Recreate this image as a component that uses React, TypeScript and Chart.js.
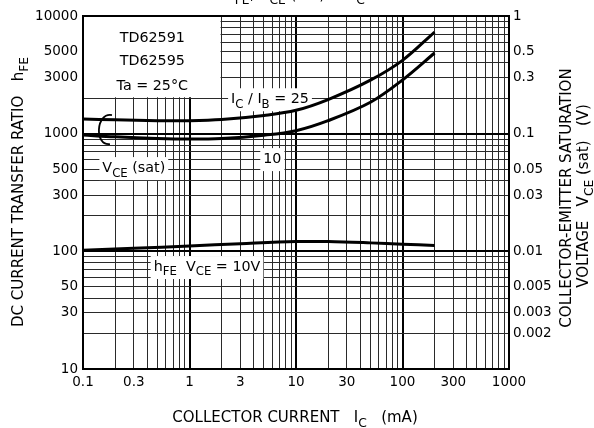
import React, { useEffect, useRef } from "react";
import { Chart, registerables } from "chart.js";
Chart.register(...registerables);

// ---- data ----
const icValues = [0.1, 0.2, 0.5, 1, 2, 5, 10, 20, 50, 100, 200];
const vceSatIb25 = [0.133, 0.131, 0.129, 0.129, 0.132, 0.143, 0.158, 0.195, 0.285, 0.42, 0.73];
const vceSatIb10 = [0.0975, 0.094, 0.091, 0.09, 0.091, 0.097, 0.106, 0.129, 0.185, 0.286, 0.485];
const hfeIc = [0.1, 0.3, 1, 3, 10, 20, 50, 100, 200];
const hfeVce10 = [102, 106, 111, 116, 121, 121, 118, 115, 112];

const xTickLabels = [0.1, 0.3, 1, 3, 10, 30, 100, 300, 1000];
const yTickLabels = [10, 30, 50, 100, 300, 500, 1000, 3000, 5000, 10000];
const y2TickLabels = [0.002, 0.003, 0.005, 0.01, 0.03, 0.05, 0.1, 0.3, 0.5, 1];

const infoLines = ["TD62591", "TD62595", "Ta = 25°C"];
const infoLineHfe = [6650, 4217, 2588];
const infoBox = { x2: 2, y2: 2000 };

type Seg = [string, boolean];
const annoLabels: { segs: Seg[]; x: number; y: number }[] = [
  { segs: [["I", false], ["C", true], [" / I", false], ["B", true], [" = 25", false]], x: 5.7, y: 2000 },
  { segs: [["10", false]], x: 6, y: 620 },
  { segs: [["V", false], ["CE", true], [" (sat)", false]], x: 0.3, y: 520 },
  { segs: [["h", false], ["FE", true], ["  V", false], ["CE", true], [" = 10V", false]], x: 1.46, y: 75 },
];
const bracketPts = [
  [0.187, 1439],
  [0.132, 1526],
  [0.127, 784],
  [0.179, 816],
];

const FONT = "'DejaVu Sans', sans-serif";
const FS = 13.5; // tick labels
const FL = 14.3; // in-plot labels
const FT = 15; // axis titles

function gridValues(lo: number, hi: number) {
  const out: number[] = [];
  for (let e = lo; e < hi; e++) {
    for (let m = 1; m < 10; m++) out.push(parseFloat((m * Math.pow(10, e)).toPrecision(2)));
  }
  out.push(Math.pow(10, hi));
  return out;
}
const isDecade = (v: number) => Math.abs(Math.log10(v) - Math.round(Math.log10(v))) < 1e-9;

function segWidth(ctx: CanvasRenderingContext2D, segs: Seg[], size: number) {
  let w = 0;
  for (const [t, sub] of segs) {
    ctx.font = `${sub ? size * 0.82 : size}px ${FONT}`;
    w += ctx.measureText(t).width;
  }
  return w;
}
// draws text with caps vertically centred at cy
function drawRich(ctx: CanvasRenderingContext2D, segs: Seg[], cx: number, cy: number, size: number, align = "center") {
  const w = segWidth(ctx, segs, size);
  let x = align === "center" ? cx - w / 2 : align === "right" ? cx - w : cx;
  const base = cy + size * 0.36;
  ctx.textBaseline = "alphabetic";
  ctx.textAlign = "left";
  ctx.fillStyle = "#000";
  for (const [t, sub] of segs) {
    ctx.font = `${sub ? size * 0.82 : size}px ${FONT}`;
    ctx.fillText(t, x, sub ? base + size * 0.3 : base);
    x += ctx.measureText(t).width;
  }
  return w;
}

const overlay = {
  id: "overlay",
  beforeDatasetsDraw(chart: any) {
    const { ctx, chartArea: a, scales } = chart;
    const sx = scales.x, sy = scales.y;
    ctx.save();
    ctx.fillStyle = "#fff";
    const bx2 = sx.getPixelForValue(infoBox.x2);
    const by2 = sy.getPixelForValue(infoBox.y2);
    ctx.fillRect(a.left + 1, a.top + 1, bx2 - a.left - 2, by2 - a.top - 2);
    for (const lb of annoLabels) {
      const w = segWidth(ctx, lb.segs, FL);
      const cx = sx.getPixelForValue(lb.x);
      const cy = sy.getPixelForValue(lb.y);
      ctx.fillStyle = "#fff";
      ctx.fillRect(cx - w / 2 - 3, cy - 10, w + 6, 23);
    }
    ctx.restore();
  },
  afterDatasetsDraw(chart: any) {
    const { ctx, chartArea: a, scales } = chart;
    const sx = scales.x, sy = scales.y;
    ctx.save();
    // frame
    ctx.strokeStyle = "#000";
    ctx.lineWidth = 2;
    ctx.strokeRect(a.left, a.top, a.right - a.left, a.bottom - a.top);
    // info text
    const icx = (a.left + sx.getPixelForValue(infoBox.x2)) / 2;
    infoLines.forEach((t, i) => drawRich(ctx, [[t, false]], icx, sy.getPixelForValue(infoLineHfe[i]), FL));
    for (const lb of annoLabels) {
      drawRich(ctx, lb.segs, sx.getPixelForValue(lb.x), sy.getPixelForValue(lb.y), FL);
    }
    // bracket
    const p = bracketPts.map(([xv, yv]) => [sx.getPixelForValue(xv), sy.getPixelForValue(yv)]);
    ctx.beginPath();
    ctx.moveTo(p[0][0], p[0][1]);
    ctx.bezierCurveTo(p[1][0], p[1][1], p[2][0], p[2][1], p[3][0], p[3][1]);
    ctx.lineWidth = 1.8;
    ctx.stroke();
    ctx.restore();
  },
  afterDraw(chart: any) {
    const { ctx, chartArea: a } = chart;
    ctx.save();
    // top title (mostly cut off)
    drawRich(ctx, [["h", false], ["FE", true], [", V", false], ["CE", true], [" (sat)  –  I", false], ["C", true]], 295, -6, FT);
    // bottom axis title
    drawRich(ctx, [["COLLECTOR CURRENT   I", false], ["C", true], ["   (mA)", false]], 295, 417, FT);
    // left axis title
    ctx.save();
    ctx.translate(18, 192);
    ctx.rotate(-Math.PI / 2);
    drawRich(ctx, [["DC CURRENT TRANSFER RATIO   h", false], ["FE", true]], 0, 0, FT);
    ctx.restore();
    // right axis title
    ctx.save();
    ctx.translate(566, 198);
    ctx.rotate(-Math.PI / 2);
    drawRich(ctx, [["COLLECTOR-EMITTER SATURATION", false]], 0, 0, FT);
    ctx.restore();
    ctx.save();
    ctx.translate(583, 196);
    ctx.rotate(-Math.PI / 2);
    drawRich(ctx, [["VOLTAGE   V", false], ["CE", true], [" (sat)   (V)", false]], 0, 0, FT);
    ctx.restore();
    ctx.restore();
  },
};

function fmt(v: number) {
  return String(v);
}

export default function App() {
  const ref = useRef<HTMLCanvasElement>(null);
  useEffect(() => {
    document.body.style.margin = "0";
    const line = (data: { x: number; y: number }[], axis: string) => ({
      data,
      yAxisID: axis,
      borderColor: "#000",
      borderWidth: 3,
      pointRadius: 0,
      fill: false,
      tension: 0.35,
    });
    const chart = new Chart(ref.current!, {
      type: "line",
      data: {
        datasets: [
          line(icValues.map((x, i) => ({ x, y: vceSatIb25[i] })), "y2"),
          line(icValues.map((x, i) => ({ x, y: vceSatIb10[i] })), "y2"),
          line(hfeIc.map((x, i) => ({ x, y: hfeVce10[i] })), "y"),
        ],
      },
      options: {
        animation: false,
        responsive: false,
        devicePixelRatio: 1,
        layout: { padding: { top: 16, left: 0, right: 0, bottom: 0 } },
        plugins: { legend: { display: false }, tooltip: { enabled: false }, title: { display: false } },
        scales: {
          x: {
            type: "logarithmic",
            position: "bottom",
            min: 0.1,
            max: 1000,
            afterBuildTicks: (s: any) => {
              s.ticks = gridValues(-1, 3).map((v) => ({ value: v }));
            },
            afterFit: (s: any) => {
              s.height = 59;
            },
            ticks: {
              autoSkip: false,
              maxRotation: 0,
              minRotation: 0,
              padding: 5,
              color: "#000",
              font: { family: FONT, size: FS },
              callback: (v: any) => (xTickLabels.includes(Number(v)) ? fmt(Number(v)) : ""),
            },
            grid: {
              drawTicks: false,
              color: (c: any) => (isDecade(c.tick.value) ? "#000" : "#2a2a2a"),
              lineWidth: (c: any) => (isDecade(c.tick.value) ? 2 : 1),
            },
            border: { display: false },
          },
          y: {
            type: "logarithmic",
            position: "left",
            min: 10,
            max: 10000,
            afterBuildTicks: (s: any) => {
              s.ticks = gridValues(1, 4).map((v) => ({ value: v }));
            },
            afterFit: (s: any) => {
              s.width = 83;
            },
            ticks: {
              autoSkip: false,
              padding: 5,
              color: "#000",
              font: { family: FONT, size: FS },
              callback: (v: any) => (yTickLabels.includes(Number(v)) ? fmt(Number(v)) : ""),
            },
            grid: {
              drawTicks: false,
              color: (c: any) => (isDecade(c.tick.value) ? "#000" : "#2a2a2a"),
              lineWidth: (c: any) => (isDecade(c.tick.value) ? 2 : 1),
            },
            border: { display: false },
          },
          y2: {
            type: "logarithmic",
            position: "right",
            min: 0.001,
            max: 1,
            afterBuildTicks: (s: any) => {
              s.ticks = y2TickLabels.map((v) => ({ value: v }));
            },
            afterFit: (s: any) => {
              s.width = 85;
            },
            ticks: {
              autoSkip: false,
              padding: 4,
              color: "#000",
              font: { family: FONT, size: FS },
              callback: (v: any) => fmt(Number(v)),
            },
            grid: { display: false, drawTicks: false },
            border: { display: false },
          },
        },
      },
      plugins: [overlay],
    });
    return () => chart.destroy();
  }, []);
  return (
    <div style={{ position: "fixed", left: 0, top: 0, width: 594, height: 428, background: "#fff" }}>
      <canvas ref={ref} width={594} height={428} style={{ display: "block", width: 594, height: 428 }} />
    </div>
  );
}
